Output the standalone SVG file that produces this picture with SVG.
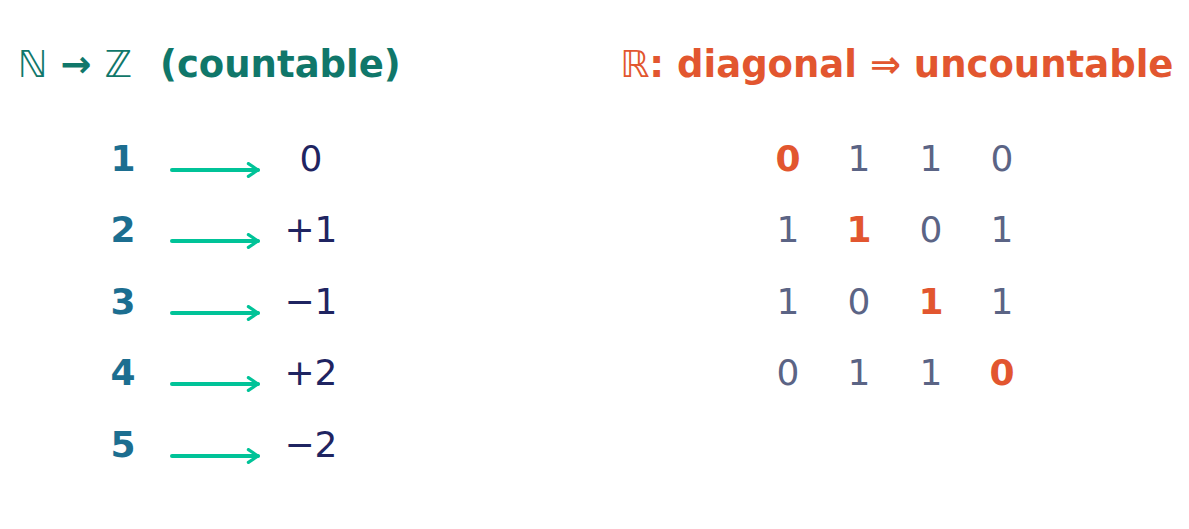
<svg xmlns="http://www.w3.org/2000/svg" width="1189" height="529" viewBox="0 0 1189 529">
<defs>
<style>
text{font-family:"DejaVu Sans","Liberation Sans",sans-serif;font-size:36px}
.t{font-size:37px}
.ttl{font-weight:bold}
.tl{fill:#10776a}
.tr{fill:#e2562f}
.n{fill:#1c6e90;font-weight:bold;text-anchor:middle}
.z{fill:#1f2461;text-anchor:middle}
.g{fill:#5b6485;text-anchor:middle}
.d{fill:#e2562f;font-weight:bold;text-anchor:middle}
.ar{stroke:#00c398;stroke-width:4;fill:none;stroke-linecap:round;marker-end:url(#ah)}
</style>
<marker id="ah" viewBox="0 0 10 10" refX="8" refY="5" markerWidth="4" markerHeight="4" orient="auto" markerUnits="strokeWidth">
<path d="M2,1 L8,5 L2,9" fill="none" stroke="#00c398" stroke-width="2" stroke-linecap="round" stroke-linejoin="round"/>
</marker>
</defs>
<g id="title-left"><text x="18" y="77" class="t tl"><tspan>ℕ</tspan><tspan font-weight="bold"> → </tspan><tspan>ℤ</tspan><tspan x="160" class="ttl">(countable)</tspan></text></g>
<g id="title-right"><text x="620" y="77" class="t tr"><tspan>ℝ</tspan><tspan class="ttl">: diagonal ⇒ uncountable</tspan></text></g>
<g id="row1"><text x="123" y="171" class="n">1</text><text x="311" y="171" class="z">0</text></g>
<g id="row2"><text x="123" y="242" class="n">2</text><text x="311" y="242" class="z">+1</text></g>
<g id="row3"><text x="123" y="314" class="n">3</text><text x="311" y="314" class="z">−1</text></g>
<g id="row4"><text x="123" y="385" class="n">4</text><text x="311" y="385" class="z">+2</text></g>
<g id="row5"><text x="123" y="457" class="n">5</text><text x="311" y="457" class="z">−2</text></g>
<g id="connectors">
<line class="ar" x1="172" y1="170" x2="258" y2="170"/>
<line class="ar" x1="172" y1="241" x2="258" y2="241"/>
<line class="ar" x1="172" y1="313" x2="258" y2="313"/>
<line class="ar" x1="172" y1="384" x2="258" y2="384"/>
<line class="ar" x1="172" y1="456" x2="258" y2="456"/>
</g>
<g id="grid">
<text x="788" y="171" class="d">0</text><text x="859" y="171" class="g">1</text><text x="931" y="171" class="g">1</text><text x="1002" y="171" class="g">0</text>
<text x="788" y="242" class="g">1</text><text x="859" y="242" class="d">1</text><text x="931" y="242" class="g">0</text><text x="1002" y="242" class="g">1</text>
<text x="788" y="314" class="g">1</text><text x="859" y="314" class="g">0</text><text x="931" y="314" class="d">1</text><text x="1002" y="314" class="g">1</text>
<text x="788" y="385" class="g">0</text><text x="859" y="385" class="g">1</text><text x="931" y="385" class="g">1</text><text x="1002" y="385" class="d">0</text>
</g>
</svg>
